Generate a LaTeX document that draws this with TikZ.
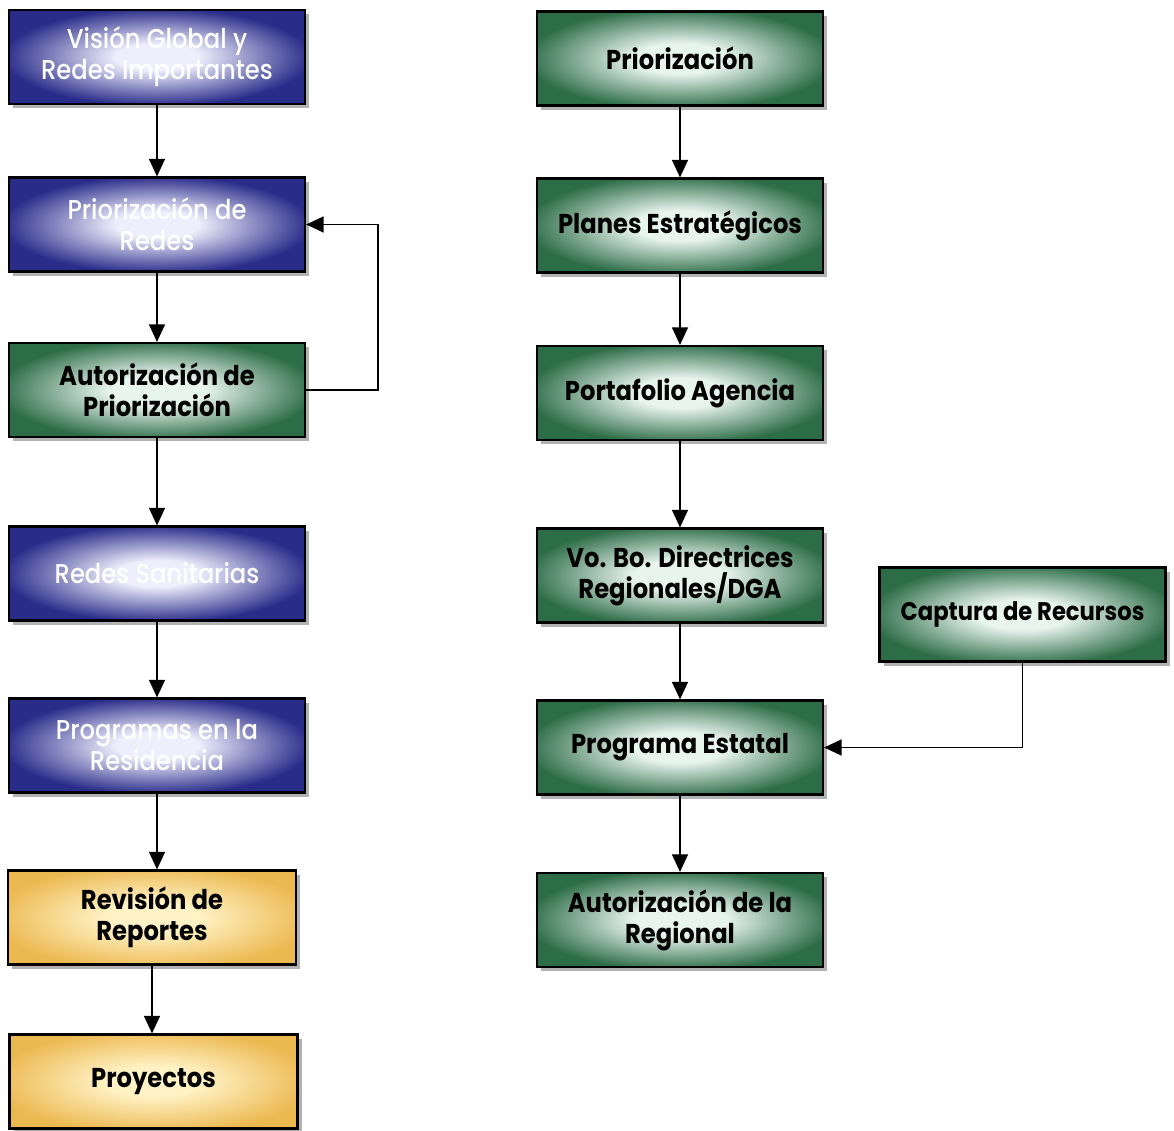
\documentclass[tikz,border=0pt]{standalone}
\usepackage{fontspec}
\setmainfont{Poppins}[FakeStretch=0.89]
\newfontfamily\medio{Poppins}[FakeStretch=0.89, UprightFont=* Medium]
\usetikzlibrary{arrows.meta,shadows}

\definecolor{azulosc}{RGB}{42,44,138}
\definecolor{azulclaro}{RGB}{238,238,252}
\definecolor{verdeosc}{RGB}{44,108,70}
\definecolor{verdeclaro}{RGB}{232,244,238}
\definecolor{amarosc}{RGB}{236,184,80}
\definecolor{amarclaro}{RGB}{255,242,196}

\pgfdeclareradialshading{brilloazul}{\pgfpoint{0bp}{0bp}}{color(0bp)=(azulclaro); color(7bp)=(azulclaro); color(26bp)=(azulosc); color(50bp)=(azulosc)}
\pgfdeclareradialshading{brilloverde}{\pgfpoint{0bp}{0bp}}{color(0bp)=(verdeclaro); color(8bp)=(verdeclaro); color(27bp)=(verdeosc); color(50bp)=(verdeosc)}
\pgfdeclareradialshading{brilloamar}{\pgfpoint{0bp}{0bp}}{color(0bp)=(amarclaro); color(8bp)=(amarclaro); color(28bp)=(amarosc); color(50bp)=(amarosc)}

\tikzset{
  caja/.style={draw=black, line width=1.2pt, minimum width=5.92cm, minimum height=1.88cm,
    align=center, shade,
    drop shadow={shadow xshift=2.5pt, shadow yshift=-2.5pt, fill=black!60}},
  cajaazul/.style={caja, shading=brilloazul, text=white, font=\fontsize{15.5}{17.6}\selectfont\medio},
  cajaverde/.style={caja, shading=brilloverde, minimum width=5.72cm, font=\fontsize{15.5}{17.6}\selectfont\bfseries},
  cajaamar/.style={caja, shading=brilloamar, minimum width=5.76cm, font=\fontsize{15.5}{17.6}\selectfont\bfseries},
  flecha/.style={line width=1.1pt, -{Triangle[length=10pt,width=9pt]}}
}

\begin{document}
\begin{tikzpicture}[x=0.02cm, y=-0.02cm]
  \useasboundingbox (0,0) rectangle (1174,1131);

  % columna izquierda
  \node[cajaazul] (vision) at (157,57) {Visión Global y\\Redes Importantes};
  \node[cajaazul] (prioredes) at (157,224.5) {Priorización de\\Redes};
  \node[cajaverde, minimum width=5.92cm] (autprio) at (157,390) {Autorización de\\Priorización};
  \node[cajaazul] (sanitarias) at (157,573.5) {Redes Sanitarias};
  \node[cajaazul] (residencia) at (157,745.5) {Programas  en la\\Residencia};
  \node[cajaamar] (revision) at (152,917.5) {Revisión de\\Reportes};
  \node[cajaamar] (proyectos) at (153.5,1081.5) {Proyectos};

  % columna derecha
  \node[cajaverde] (prio) at (680,58.5) {Priorización};
  \node[cajaverde] (planes) at (680,225.5) {Planes Estratégicos};
  \node[cajaverde] (portafolio) at (680,393) {Portafolio Agencia};
  \node[cajaverde] (vobo) at (680,575.5) {Vo. Bo. Directrices\\Regionales/DGA};
  \node[cajaverde] (estatal) at (680,747.5) {Programa Estatal};
  \node[cajaverde] (autreg) at (680,920) {Autorización de la\\Regional};
  \node[cajaverde, font=\fontsize{14.5}{17.6}\selectfont\bfseries] (captura) at (1022.5,614.5) {Captura de Recursos};

  % conectores
  \draw[flecha] (vision) -- (prioredes);
  \draw[flecha] (prioredes) -- (autprio);
  \draw[flecha] (autprio) -- (sanitarias);
  \draw[flecha] (sanitarias) -- (residencia);
  \draw[flecha] (residencia.south) -- (residencia.south |- revision.north);
  \draw[flecha] (revision.south) -- (revision.south |- proyectos.north);
  \draw[flecha] (autprio.east) -- ++(72,0) |- (prioredes.east);

  \draw[flecha] (prio) -- (planes);
  \draw[flecha] (planes) -- (portafolio);
  \draw[flecha] (portafolio) -- (vobo);
  \draw[flecha] (vobo) -- (estatal);
  \draw[flecha] (estatal) -- (autreg);
  \draw[flecha] (captura.south) |- (estatal.east);
\end{tikzpicture}
\end{document}
